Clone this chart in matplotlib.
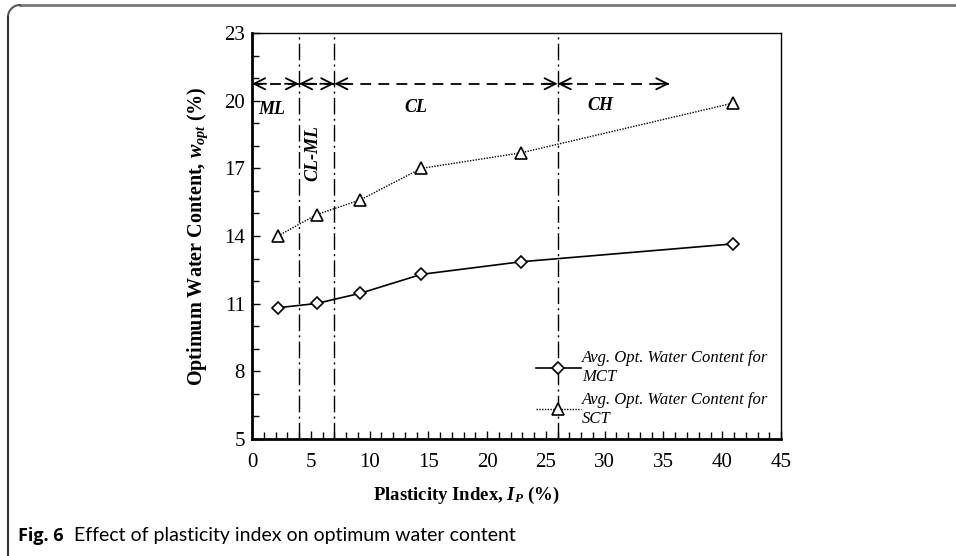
import numpy as np
import matplotlib
matplotlib.use('Agg')
import matplotlib.pyplot as plt
from matplotlib.lines import Line2D
from matplotlib.ticker import MultipleLocator

plt.rcParams['font.family'] = 'Liberation Serif'
plt.rcParams['mathtext.fontset'] = 'custom'
plt.rcParams['mathtext.rm'] = 'Liberation Serif:bold'
plt.rcParams['mathtext.it'] = 'Liberation Serif:italic:bold'
plt.rcParams['mathtext.bf'] = 'Liberation Serif:bold'

# --- data
plasticity_index = [2.2, 5.5, 9.2, 14.4, 22.9, 40.9]
w_opt_mct = [10.82, 11.01, 11.46, 12.30, 12.86, 13.65]
w_opt_sct = [14.0, 14.95, 15.6, 17.0, 17.69, 19.89]

boundaries = [4, 7, 26]          # ML / CL-ML / CL / CH limits
arrow_y = 20.75
arrow_end = 35.5
zone_names = ['ML', 'CL-ML', 'CL', 'CH']
zone_x = [1.7, 5.2, 13.9, 29.6]
zone_y = [19.6, 17.7, 19.7, 19.8]

y_ticks = [5, 8, 11, 14, 17, 20, 23]

fig = plt.figure(figsize=(9.56, 5.56), dpi=100)
ax = fig.add_axes((0.2636, 0.2104, 0.817 - 0.2636, 0.9406 - 0.2104))

ax.plot(plasticity_index, w_opt_mct, '-', color='black', lw=1.2,
        marker='D', markersize=6.5, mfc='white', mec='black', mew=1.2,
        label='Avg. Opt. Water Content for\nMCT')
ax.plot(plasticity_index, w_opt_sct, linestyle=(0, (1, 1)), color='black', lw=1.0,
        marker='^', markersize=8, mfc='white', mec='black', mew=1.2,
        label='Avg. Opt. Water Content for\nSCT')

# --- soil class boundaries
for b in boundaries:
    ax.axvline(b, color='black', lw=1.0, linestyle=(0, (12, 3, 1.5, 3)), zorder=1)

# --- dashed arrow line with open heads
ax.plot([0, arrow_end], [arrow_y, arrow_y], color='black', lw=1.3,
        linestyle=(0, (6, 4)), zorder=2, clip_on=False)
heads = [(0, 1.2), (arrow_end, arrow_end - 1.2)]
for b in boundaries:
    heads.append((b, b - 1.2))
    heads.append((b, b + 1.2))
for tip, tail in heads:
    ax.annotate('', xy=(tip, arrow_y), xytext=(tail, arrow_y),
                arrowprops=dict(arrowstyle='->,head_length=0.8,head_width=0.4',
                                color='black', lw=1.3, shrinkA=0, shrinkB=0))

for name, x, y in zip(zone_names, zone_x, zone_y):
    ax.text(x, y, name, ha='center', va='center', fontsize=13,
            fontweight='bold', fontstyle='italic',
            rotation=90 if name == 'CL-ML' else 0)

ax.set_xlim(0, 45)
ax.set_ylim(5, 23)
ax.xaxis.set_major_locator(MultipleLocator(5))
ax.xaxis.set_minor_locator(MultipleLocator(1))
ax.set_yticks(y_ticks)
ax.yaxis.set_minor_locator(MultipleLocator(1))
ax.tick_params(which='both', direction='in', top=False, right=False,
               labelsize=15, width=1.0)
ax.tick_params(axis='x', which='both', pad=10)
ax.tick_params(axis='y', which='both', pad=5)
ax.tick_params(which='major', length=6)
ax.tick_params(which='minor', length=5)
ax.spines['left'].set_linewidth(2.0)
ax.spines['bottom'].set_linewidth(2.0)
ax.spines['top'].set_linewidth(1.0)
ax.spines['right'].set_linewidth(1.0)

ax.set_xlabel(r'Plasticity Index, $I_P$ (%)', fontsize=13.5, fontweight='bold')
ax.xaxis.set_label_coords(0.405, -0.112)
ax.set_ylabel(r'Optimum Water Content, $w_{opt}$ (%)', fontsize=14.5, fontweight='bold')
ax.yaxis.set_label_coords(-0.08, 0.5)

leg = ax.legend(loc='lower right', bbox_to_anchor=(1.0, 0.0), frameon=False,
                prop={'family': 'Liberation Serif', 'style': 'italic', 'size': 12},
                handlelength=2.7, handletextpad=0.1, labelspacing=0.45,
                borderaxespad=0.35)

# --- page frame and caption
fig.add_artist(Line2D([20 / 956, 1.0], [1 - 5 / 556, 1 - 5 / 556],
                      transform=fig.transFigure, color='#777777', lw=2))
t = np.linspace(0, np.pi / 2, 20)
r = 12
cx, cy = 20, 5 + r
fig.add_artist(Line2D((cx - r * np.sin(t)) / 956, 1 - (cy - r * np.cos(t)) / 556,
                      transform=fig.transFigure, color='#555555', lw=1.5))
fig.add_artist(Line2D([8 / 956, 8 / 956], [1 - 17 / 556, 0.0],
                      transform=fig.transFigure, color='#333333', lw=1.5))

fig.text(18 / 956, 1 - 536 / 556, 'Fig. 6', family='Open Sans', fontweight='bold',
         fontsize=13, va='center')
fig.text(74 / 956, 1 - 536 / 556, 'Effect of plasticity index on optimum water content',
         family='Lato', fontsize=14, va='center')

fig.savefig('out.png', dpi=100)
